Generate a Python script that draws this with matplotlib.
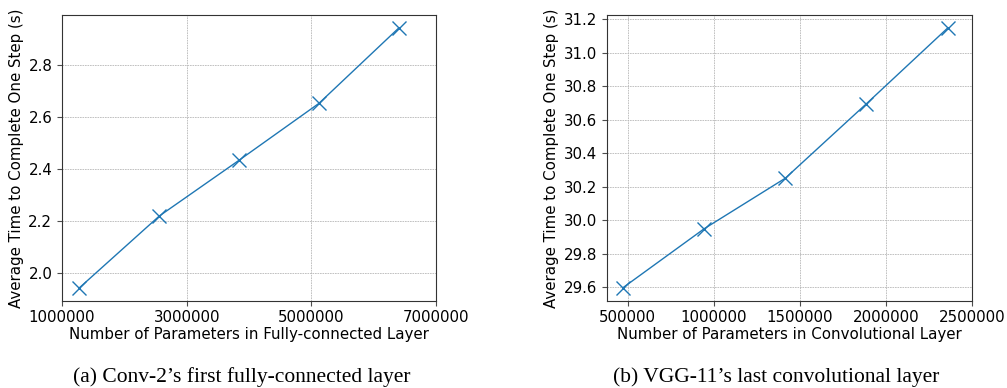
import matplotlib
matplotlib.use("Agg")
import matplotlib.pyplot as plt

# Data
conv2_params = [1280000, 2560000, 3840000, 5120000, 6400000]
conv2_time = [1.944, 2.219, 2.433, 2.651, 2.940]
conv2_xticks = [1000000, 3000000, 5000000, 7000000]

vgg_params = [471859, 943718, 1415577, 1887437, 2359296]
vgg_time = [29.596, 29.948, 30.250, 30.695, 31.147]
vgg_xticks = [500000, 1000000, 1500000, 2000000, 2500000]

ylabel = "Average Time to Complete One Step (s)"
xlabel_a = "Number of Parameters in Fully-connected Layer"
xlabel_b = "Number of Parameters in Convolutional Layer"
caption_a = "(a) Conv-2\u2019s first fully-connected layer"
caption_b = "(b) VGG-11\u2019s last convolutional layer"

plt.rcParams['font.family'] = ['DejaVu Sans']
plt.rcParams['font.size'] = 10.8

fig = plt.figure(figsize=(10.07, 3.88), dpi=100)
ax1 = fig.add_axes([0.0616, 0.225, 0.3714, 0.736])
ax2 = fig.add_axes([0.6025, 0.225, 0.3625, 0.736])

for ax, xs, ys, xt, xl in [(ax1, conv2_params, conv2_time, conv2_xticks, xlabel_a),
                           (ax2, vgg_params, vgg_time, vgg_xticks, xlabel_b)]:
    ax.plot(xs, ys, color='tab:blue', marker='x', markersize=10, linewidth=1.0,
            markeredgewidth=1.0)
    ax.set_xticks(xt)
    ax.ticklabel_format(axis='x', style='plain', useOffset=False)
    ax.grid(True, linestyle=(0, (2, 1)), color='0.72', linewidth=0.6)
    ax.set_xlabel(xl, labelpad=1)
    ax.set_ylabel(ylabel, labelpad=3)
    ax.tick_params(colors='0.3', labelcolor='black', length=3.5)
    for s in ax.spines.values():
        s.set_color('0.2')
        s.set_linewidth(0.8)

fig.text(0.240, 0.029, caption_a, ha='center', va='center',
         family='Liberation Serif', fontsize=15.5)
fig.text(0.771, 0.029, caption_b, ha='center', va='center',
         family='Liberation Serif', fontsize=15.5)

fig.savefig("out.png", dpi=100)
